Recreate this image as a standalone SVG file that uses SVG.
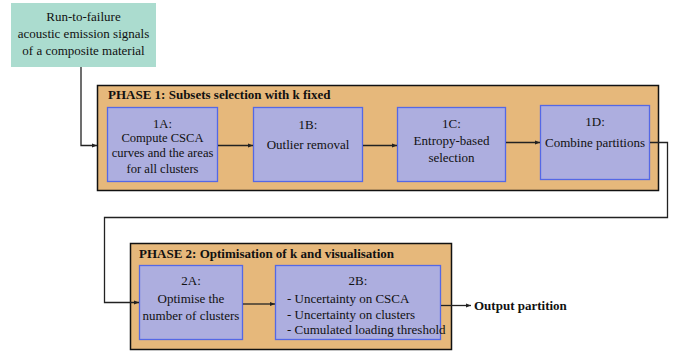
<svg xmlns="http://www.w3.org/2000/svg" width="678" height="352" viewBox="0 0 678 352">
<defs>
<style>
text{font-family:"Liberation Serif","Times New Roman",serif;font-size:13px;fill:#111}
.c{text-anchor:middle}
.b{font-weight:bold}
.s{font-size:12.6px}
.node{fill:#adaedf;stroke:#5468e6;stroke-width:1.3}
.phase{fill:#e6b87b;stroke:#111;stroke-width:1.5}
.input{fill:#abdccf;stroke:none}
.conn{fill:none;stroke:#222;stroke-width:1.3}
</style>
<marker id="ah" viewBox="0 0 10 10" refX="10" refY="5" markerWidth="5" markerHeight="5" orient="auto" markerUnits="userSpaceOnUse">
<path d="M0,1 L10,5 L0,9 z" fill="#222"/>
</marker>
</defs>
<rect width="678" height="352" fill="#fff"/>
<g id="input">
<rect class="input" x="11" y="3" width="145" height="64"/>
<text class="c" x="83.5" y="21">Run-to-failure</text>
<text class="c" x="83.5" y="38">acoustic emission signals</text>
<text class="c" x="83.5" y="55">of a composite material</text>
</g>
<g id="phase1">
<rect class="phase" x="97.5" y="85.5" width="561" height="105"/>
<text class="b" x="108" y="98.5">PHASE 1: Subsets selection with k fixed</text>
</g>
<g id="phase2">
<rect class="phase" x="130.5" y="243.5" width="321" height="106"/>
<text class="b" x="139" y="257.5">PHASE 2: Optimisation of k and visualisation</text>
</g>
<g id="n1A">
<rect class="node" x="107.5" y="107.5" width="110" height="74"/>
<text class="c s" x="162.5" y="127.5">1A:</text>
<text class="c s" x="162.5" y="141.8">Compute CSCA</text>
<text class="c s" x="162.5" y="157.3">curves and the areas</text>
<text class="c s" x="162.5" y="172.8">for all clusters</text>
</g>
<g id="n1B">
<rect class="node" x="253.5" y="107.5" width="109" height="74"/>
<text class="c" x="308" y="129">1B:</text>
<text class="c" x="308" y="149">Outlier removal</text>
</g>
<g id="n1C">
<rect class="node" x="397.5" y="107.5" width="108" height="74"/>
<text class="c" x="451.5" y="127.5">1C:</text>
<text class="c" x="451.5" y="145">Entropy-based</text>
<text class="c" x="451.5" y="161.5">selection</text>
</g>
<g id="n1D">
<rect class="node" x="540.5" y="105.5" width="109" height="74"/>
<text class="c" x="595" y="126">1D:</text>
<text class="c" x="595" y="147">Combine partitions</text>
</g>
<g id="n2A">
<rect class="node" x="139.5" y="265.5" width="103" height="74"/>
<text class="c" x="191" y="285">2A:</text>
<text class="c" x="191" y="303">Optimise the</text>
<text class="c" x="191" y="320">number of clusters</text>
</g>
<g id="n2B">
<rect class="node" x="275.5" y="265.5" width="165" height="74"/>
<text class="c" x="358" y="285">2B:</text>
<text x="287" y="303">- Uncertainty on CSCA</text>
<text x="287" y="319">- Uncertainty on clusters</text>
<text x="287" y="334">- Cumulated loading threshold</text>
</g>
<g id="output">
<text class="b" x="474" y="309.5">Output partition</text>
</g>
<g id="connectors">
<path class="conn" d="M81,67 V145.5 H97" marker-end="url(#ah)"/>
<path class="conn" d="M218,145.5 H253" marker-end="url(#ah)"/>
<path class="conn" d="M363,145.5 H397" marker-end="url(#ah)"/>
<path class="conn" d="M506,142.5 H540" marker-end="url(#ah)"/>
<path class="conn" d="M650,142.5 H667.5 V217.5 H104.5 V302.5 H139" marker-end="url(#ah)"/>
<path class="conn" d="M243,304 H275" marker-end="url(#ah)"/>
<path class="conn" d="M441,305.5 H471" marker-end="url(#ah)"/>
</g>
</svg>
